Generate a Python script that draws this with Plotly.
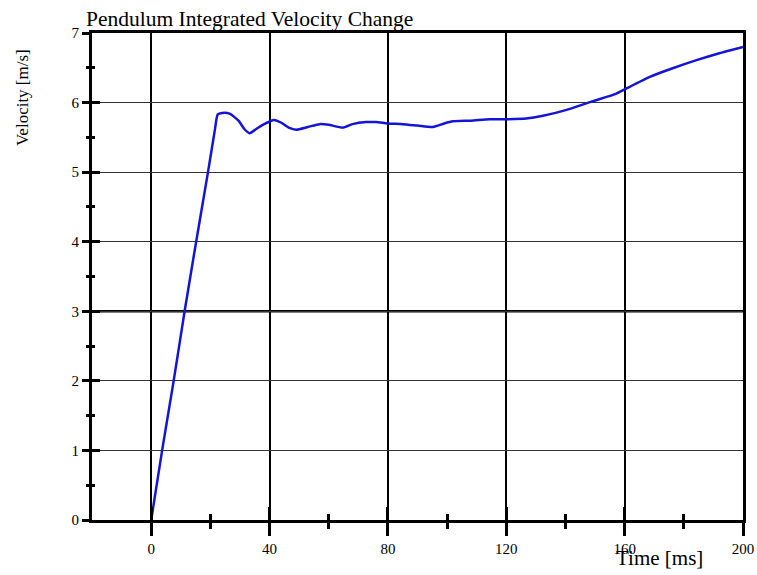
import plotly.graph_objects as go

# Integrated velocity of the pendulum
time_ms = [0, 3.7, 7.6, 11.3, 15.2, 19.2, 21.5, 22.5, 24, 26.5, 29.5, 31.5, 33.2,
           35.5, 37.7, 41.6, 44, 46.5, 49, 53, 56.9, 60, 64.7, 68, 72.6, 76, 80,
           85, 90, 95.2, 99, 102, 108, 114.4, 120, 126.7, 132.4, 141.5, 149.3,
           157.2, 160, 168.5, 176, 184.3, 192, 200]
velocity = [0, 1, 2, 3, 4, 5, 5.6, 5.83, 5.85, 5.84, 5.74, 5.62, 5.56,
            5.62, 5.68, 5.75, 5.71, 5.64, 5.61, 5.65, 5.69, 5.68, 5.64, 5.69, 5.72, 5.72, 5.70,
            5.69, 5.67, 5.65, 5.70, 5.73, 5.74, 5.76, 5.76, 5.77, 5.81, 5.91, 6.02,
            6.13, 6.19, 6.37, 6.49, 6.61, 6.71, 6.80]

x_ticks = [0, 40, 80, 120, 160, 200]
x_minor = [20, 60, 100, 140, 180]
y_ticks = [0, 1, 2, 3, 4, 5, 6, 7]

serif = "Liberation Serif"

fig = go.Figure()
fig.add_trace(go.Scatter(
    x=time_ms, y=velocity, mode="lines",
    line=dict(color="rgb(20,20,215)", width=2.5, shape="spline", smoothing=0.6),
    showlegend=False, hoverinfo="x+y"
))
# empty trace so the overlay axes get drawn
fig.add_trace(go.Scatter(x=[], y=[], xaxis="x2", yaxis="y2", showlegend=False))

fig.update_layout(
    width=757, height=575,
    margin=dict(l=92, r=14, t=33, b=55),
    paper_bgcolor="white", plot_bgcolor="white",
    font=dict(family=serif, size=15, color="black"),
    title=dict(text="Pendulum Integrated Velocity Change",
               font=dict(family=serif, size=21.5, color="black"),
               xref="container", x=0.1136, xanchor="left",
               yref="container", y=0.9687, yanchor="middle"),
    xaxis=dict(range=[-20, 200], tickvals=x_ticks, automargin=False,
               showline=True, linewidth=3, linecolor="black", mirror=True,
               ticks="outside", ticklen=13, tickwidth=3, tickcolor="black",
               minor=dict(tickvals=x_minor, ticks="outside",
                          ticklen=6, tickwidth=3, tickcolor="black"),
               showgrid=True, gridcolor="black", gridwidth=2, zeroline=False,
               tickfont=dict(size=15)),
    xaxis2=dict(range=[-20, 200], overlaying="x", anchor="y", side="bottom",
                tickvals=x_ticks, showticklabels=False, automargin=False,
                ticks="inside", ticklen=13, tickwidth=3, tickcolor="black",
                minor=dict(tickvals=x_minor, ticks="inside",
                           ticklen=6, tickwidth=3, tickcolor="black"),
                showgrid=False, zeroline=False, showline=False),
    yaxis=dict(range=[0, 7], tickvals=y_ticks, automargin=False,
               showline=True, linewidth=3, linecolor="black", mirror=True,
               ticks="outside", ticklen=7, tickwidth=3, tickcolor="black",
               minor=dict(dtick=0.5, ticks="outside", ticklen=3,
                          tickwidth=3, tickcolor="black"),
               showgrid=True, gridcolor="#333333", gridwidth=1.3, zeroline=False,
               tickfont=dict(size=15)),
    yaxis2=dict(range=[0, 7], overlaying="y", anchor="x", side="left",
                tickvals=y_ticks, showticklabels=False, automargin=False,
                ticks="inside", ticklen=8, tickwidth=3, tickcolor="black",
                minor=dict(dtick=0.5, ticks="inside", ticklen=3,
                           tickwidth=3, tickcolor="black"),
                showgrid=False, zeroline=False, showline=False),
)

# heavier gridline at 3 m/s
fig.add_shape(type="line", xref="paper", yref="y", x0=0, x1=1, y0=3, y1=3,
              line=dict(color="black", width=2.5), layer="below")

fig.add_annotation(text="Velocity [m/s]", textangle=-90, showarrow=False,
                   xref="paper", yref="paper", x=-0.1075, y=0.8665,
                   xanchor="center", yanchor="middle",
                   font=dict(family=serif, size=17, color="black"))
fig.add_annotation(text="Time [ms]", showarrow=False,
                   xref="paper", yref="paper", x=0.8725, y=-0.078,
                   xanchor="center", yanchor="middle",
                   font=dict(family=serif, size=21, color="black"))

# drop the default 8px body margin so the figure sits at the window corner
fig.write_html("out.html", config={"displayModeBar": False},
               post_script="document.body.style.margin='0';")
